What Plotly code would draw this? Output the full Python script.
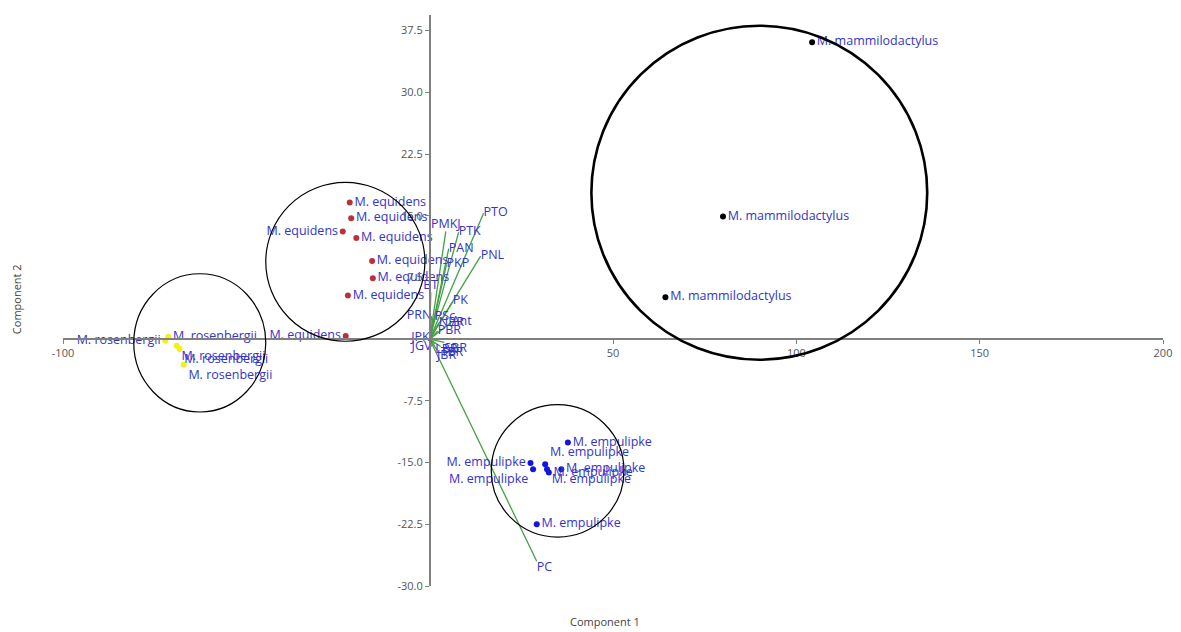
import plotly.graph_objects as go

# ---------------- data ----------------
rosenbergii_x = [-72.1, -71.3, -69.0, -68.2, -67.1]
rosenbergii_y = [-0.2, 0.3, -0.8, -1.2, -3.1]

equidens_x = [-21.8, -21.4, -23.7, -20.0, -15.7, -15.5, -22.3, -22.9]
equidens_y = [16.6, 14.7, 13.1, 12.3, 9.5, 7.4, 5.3, 0.4]

empulipke_x = [37.7, 27.5, 28.2, 31.5, 32.0, 32.5, 35.9, 29.2]
empulipke_y = [-12.55, -15.05, -15.8, -15.2, -15.8, -16.2, -15.8, -22.5]

mammilo_x = [104.3, 80.0, 64.3]
mammilo_y = [36.1, 14.9, 5.1]

# loadings (biplot vectors)
load_names = ["PTO", "PMKJ", "PTK", "PAN", "PKP", "PNL", "PK", "BT", "PC",
              "PRN", "PSc", "NBR", "Ant", "PBR", "JPK", "JGV", "LBR", "TBR", "SBR", "JBR"]
load_x = [14.7, 4.4, 7.9, 5.2, 4.6, 13.9, 6.3, 0.3, 29.2,
          0.5, 1.4, 2.5, 6.0, 2.2, 0.0, 0.5, 1.5, 3.0, 4.0, 2.0]
load_y = [15.3, 13.1, 13.0, 11.0, 9.1, 10.1, 4.6, 5.7, -27.0,
          2.8, 2.7, 2.0, 2.1, 1.0, 0.15, -0.9, -0.6, -0.9, -0.4, -1.3]

# group ellipses: centre and half-axes in data units
ell_group = ["rosenbergii", "equidens", "empulipke", "mammilodactylus"]
ell_cx = [-62.7, -23.0, 34.9, 89.9]
ell_cy = [-0.45, 9.4, -16.0, 17.8]
ell_rx = [18.0, 21.7, 18.1, 45.8]
ell_ry = [8.4, 9.65, 8.05, 20.3]

x_ticks = [-100, 50, 100, 150, 200]
y_ticks = [37.5, 30.0, 22.5, 15.0, 7.5, -7.5, -15.0, -22.5, -30.0]

# ---------------- styles ----------------
X_RANGE = [-100, 200]
Y_RANGE = [-30, 39.4]
LABEL_COLOR = "#3434c8"
LABEL_FONT = dict(family="Open Sans, Noto Sans, sans-serif", size=12.5, color=LABEL_COLOR)
GREEN = "#45a045"

pos_ros = ["middle left", "middle right", "bottom right", "bottom right", "bottom right"]
pos_equ = ["middle right", "middle right", "middle left", "middle right",
           "middle right", "middle right", "middle right", "middle left"]
pos_emp = ["middle right", "middle left", "bottom left", "top right",
           "bottom right", "middle right", "middle right", "middle right"]
pos_mam = ["middle right"] * 3
load_pos = ["middle right", "top center", "middle right", "middle right", "middle right",
            "middle right", "middle right", "top center", "bottom right",
            "middle left", "middle right", "middle right", "middle right", "middle right",
            "middle left", "middle left", "bottom right", "bottom right", "bottom right",
            "bottom right"]

fig = go.Figure()

# loading vectors
lx, ly = [], []
for x, y in zip(load_x, load_y):
    lx += [0, x, None]
    ly += [0, y, None]
fig.add_trace(go.Scatter(x=lx, y=ly, mode="lines",
                         line=dict(color=GREEN, width=1.3),
                         hoverinfo="skip", showlegend=False))
fig.add_trace(go.Scatter(x=load_x, y=load_y, mode="text", text=load_names,
                         textposition=load_pos, textfont=LABEL_FONT,
                         showlegend=False))

groups = [
    ("M. rosenbergii", rosenbergii_x, rosenbergii_y, "#f2ef1a", pos_ros),
    ("M. equidens", equidens_x, equidens_y, "#b8323e", pos_equ),
    ("M. empulipke", empulipke_x, empulipke_y, "#1414e0", pos_emp),
    ("M. mammilodactylus", mammilo_x, mammilo_y, "#000000", pos_mam),
]
for name, xs, ys, col, pos in groups:
    fig.add_trace(go.Scatter(
        x=xs, y=ys, mode="markers+text", text=[name] * len(xs),
        textposition=pos, textfont=LABEL_FONT,
        marker=dict(color=col, size=6, line=dict(width=0)),
        name=name, showlegend=False))

# ellipses
for i, g in enumerate(ell_group):
    fig.add_shape(type="circle", xref="x", yref="y",
                  x0=ell_cx[i] - ell_rx[i], x1=ell_cx[i] + ell_rx[i],
                  y0=ell_cy[i] - ell_ry[i], y1=ell_cy[i] + ell_ry[i],
                  line=dict(color="black", width=2.6 if g == "mammilodactylus" else 1.2),
                  layer="above")

x0_frac = (0 - Y_RANGE[0]) / (Y_RANGE[1] - Y_RANGE[0])
y0_frac = (0 - X_RANGE[0]) / (X_RANGE[1] - X_RANGE[0])

tick_font = dict(family="Open Sans, Noto Sans, sans-serif", size=11, color="#555555")
fig.update_layout(
    width=1173, height=624,
    margin=dict(l=55, r=18, t=7, b=46),
    paper_bgcolor="white", plot_bgcolor="white",
    xaxis=dict(range=X_RANGE, anchor="free", position=x0_frac,
               showgrid=False, zeroline=False, showline=True,
               linecolor="#808080", linewidth=1.5,
               ticks="outside", ticklen=4, tickcolor="#808080", tickwidth=1.2,
               tickvals=x_ticks, ticktext=[str(v) for v in x_ticks],
               tickfont=tick_font, automargin=False),
    yaxis=dict(range=Y_RANGE, anchor="free", position=y0_frac,
               showgrid=False, zeroline=False, showline=True,
               linecolor="#808080", linewidth=1.5,
               ticks="outside", ticklen=4, tickcolor="#808080", tickwidth=1.2,
               tickvals=y_ticks, ticktext=[f"{v:.1f}" for v in y_ticks],
               tickfont=tick_font, automargin=False),
    annotations=[
        dict(text="Component 1", xref="paper", yref="paper", x=0.493, y=-0.062,
             showarrow=False, xanchor="center", yanchor="middle",
             font=dict(family="Open Sans, Noto Sans, sans-serif", size=11, color="#444444")),
        dict(text="Component 2", xref="paper", yref="paper", x=-0.042, y=0.502,
             showarrow=False, xanchor="center", yanchor="middle", textangle=-90,
             font=dict(family="Open Sans, Noto Sans, sans-serif", size=11, color="#444444")),
    ],
)

fig.write_html("out.html")
